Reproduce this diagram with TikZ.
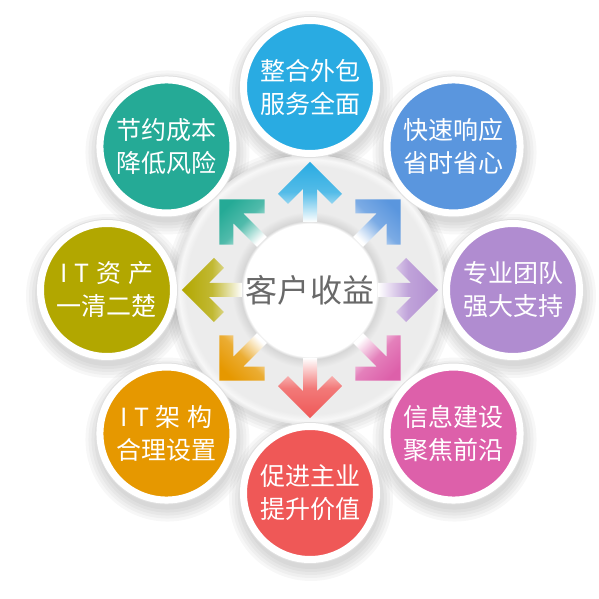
\documentclass[tikz,border=0pt]{standalone}
\usepackage{fontspec}
\usepackage{xcolor}
\usepackage{tikz}
\usetikzlibrary{positioning}
\newfontfamily\cjk{Noto Sans CJK SC}

\definecolor{cOne}{RGB}{41,171,226}
\definecolor{cTwo}{RGB}{90,150,222}
\definecolor{cThree}{RGB}{176,140,208}
\definecolor{cFour}{RGB}{221,96,170}
\definecolor{cFive}{RGB}{239,88,87}
\definecolor{cSix}{RGB}{230,152,0}
\definecolor{cSeven}{RGB}{178,167,0}
\definecolor{cEight}{RGB}{37,170,150}
\definecolor{hubedge}{RGB}{214,214,214}
\definecolor{hubring}{RGB}{236,236,236}
\definecolor{hubrim}{RGB}{247,247,247}
\definecolor{hubout}{RGB}{228,228,228}
\definecolor{hubtext}{RGB}{105,105,105}

\pgfdeclareradialshading{hubshade}{\pgfpoint{0bp}{0bp}}{%
  color(0bp)=(white); color(12.3bp)=(white); color(12.8bp)=(hubedge);
  color(14.5bp)=(hubring); color(23bp)=(hubring); color(24.2bp)=(hubrim);
  color(25bp)=(hubout); color(50bp)=(hubout)}

\begin{document}
\begin{tikzpicture}[
    x=1pt, y=1pt,
    sat/.style={
      circle, minimum size=133pt, inner sep=0pt,
      draw=white, line width=7pt,
      preaction={draw=black!12, line width=9pt},
      text=white, align=center,
      font=\cjk\fontsize{25}{33}\selectfont
    },
    hub/.style={circle, minimum size=270pt, inner sep=0pt, shading=hubshade},
    title/.style={text=hubtext, font=\cjk\fontsize{32}{32}\selectfont},
    soft/.style={black, opacity=0.03}
]
  \useasboundingbox (-310,-309) rectangle (288,290);
  \fill[white] (-310,-309) rectangle (288,290);

  % shadows
  \foreach \r in {136,139,...,145}
    \fill[soft] (0,-3) circle (\r);
  \foreach \a in {90,45,...,-225}
    \foreach \r in {70,73,...,82}
      \fill[soft, shift={(\a:203)}] (1,-6) circle (\r);

  % the hub
  \node[hub] (hub) at (0,0) {};

  % arrows out of the hub
  \foreach \ang/\col [evaluate=\ang as \rot using \ang-90] in
      {90/cOne, 45/cTwo, 0/cThree, -45/cFour, -90/cFive, -135/cSix, 180/cSeven, 135/cEight}
    \shade[rotate=\rot, top color=\col, bottom color=white,
           middle color=\col!80!white, shading angle=\rot]
      (-7,68) -- (-7,101.2) -- (-22.1,86.1) -- (-32,96) -- (0,128)
      -- (32,96) -- (22.1,86.1) -- (7,101.2) -- (7,68) -- cycle;

  \node[title] (gain) at (hub) {客户收益};

  % the eight circles
  \node[sat, fill=cOne]   (zhenghe) at (90:203)   {整合外包\\服务全面};
  \node[sat, fill=cTwo]   (kuaisu)  at (45:203)   {快速响应\\省时省心};
  \node[sat, fill=cThree] (tuandui) at (0:203)    {专业团队\\强大支持};
  \node[sat, fill=cFour]  (xinxi)   at (-45:203)  {信息建设\\聚焦前沿};
  \node[sat, fill=cFive]  (zhuye)   at (-90:203)  {促进主业\\提升价值};
  \node[sat, fill=cSix]   (jiagou)  at (-135:203) {\makebox[3.7em][s]{I T 架 构}\\合理设置};
  \node[sat, fill=cSeven] (zichan)  at (180:203)  {\makebox[3.7em][s]{I T 资 产}\\一清二楚};
  \node[sat, fill=cEight] (chengben) at (135:203) {节约成本\\降低风险};

\end{tikzpicture}
\end{document}
